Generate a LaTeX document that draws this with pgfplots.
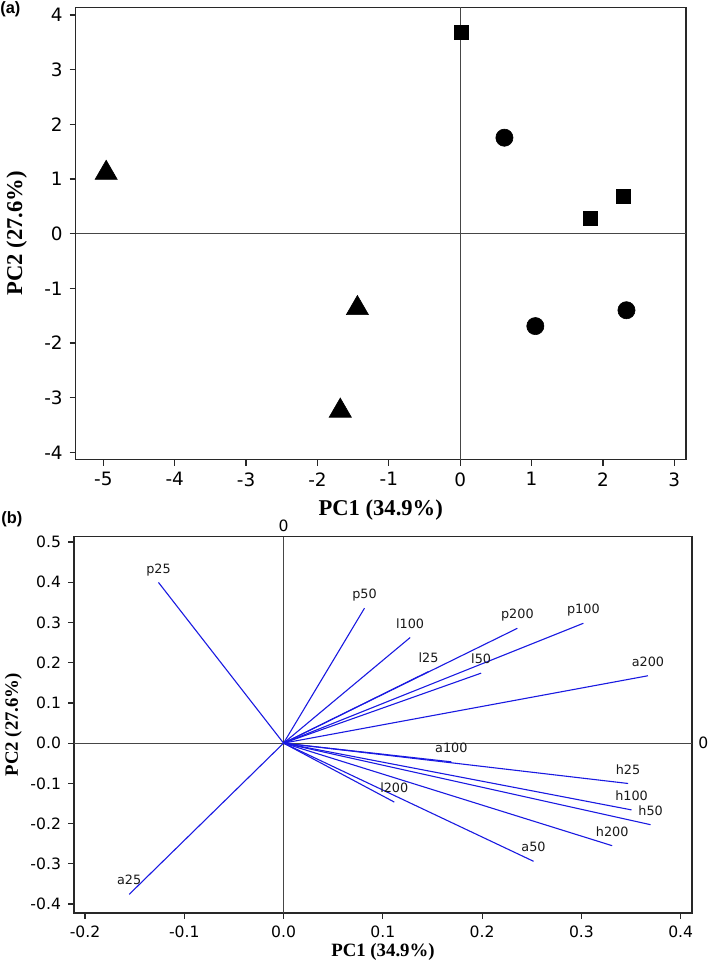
\documentclass[border=0pt]{standalone}
\usepackage{pgfplots}
\pgfplotsset{compat=1.18}
\usepackage{fontspec}
\setmainfont{DejaVu Sans}
\newfontfamily\timesfont{Liberation Serif}
\newfontfamily\arialfont{Liberation Sans}
\definecolor{vecblue}{RGB}{25,25,225}
\definecolor{zgray}{RGB}{70,70,70}
\definecolor{boxc}{RGB}{40,40,40}

\tikzset{
  vlab/.style={pos=1, anchor=base, yshift=4.7pt, inner sep=0pt, font=\fontsize{6.4}{7}\selectfont, text=black!90},
}
\pgfplotsset{
  pcastyle/.style={
    scale only axis, anchor=north west,
    axis line style={boxc, line width=0.8pt},
    tick align=outside, xtick pos=bottom, ytick pos=left,
    major tick length=3pt,
    tick style={boxc, line width=0.6pt},
    /pgf/number format/assume math mode=true,
    clip=false,
  },
  vec/.style={vecblue, line width=0.55pt},
}

\begin{document}
\begin{tikzpicture}
% ---------------- panel (a) ----------------
\begin{axis}[pcastyle,
  at={(37.85pt,-3.65pt)}, width=305pt, height=226.1pt,
  xmin=-5.387, xmax=3.16, ymin=-4.13, ymax=4.141,
  xtick={-5,-4,-3,-2,-1,0,1,2,3}, ytick={-4,-3,-2,-1,0,1,2,3,4},
  tick label style={font=\fontsize{9.2}{10}\selectfont},
  xlabel={PC1 (34.9\%)}, ylabel={PC2 (27.6\%)},
  xlabel style={font=\timesfont\bfseries\fontsize{11.3}{12}\selectfont, at={([yshift=-25.25pt]axis description cs:0.5,0)}, anchor=center},
  ylabel style={font=\timesfont\bfseries\fontsize{11.3}{12}\selectfont, at={([xshift=-29.5pt]axis description cs:0,0.5)}, anchor=center},
]
\addplot[zgray, line width=0.6pt, forget plot] coordinates {(-5.387,0) (3.16,0)};
\addplot[zgray, line width=0.6pt, forget plot] coordinates {(0,-4.13) (0,4.141)};
\addplot[only marks, mark=square*, mark size=3.5pt, mark options={black, line width=0.3pt}] coordinates {(0.02,3.68) (2.28,0.69) (1.83,0.274)};
\addplot[only marks, mark=*, mark size=4.3pt, mark options={black, line width=0.3pt}] coordinates {(0.62,1.756) (1.053,-1.69) (2.33,-1.40)};
\addplot[only marks, mark=triangle*, mark size=6.4pt, mark options={black, line width=0.3pt}] coordinates {(-4.96,1.11) (-1.44,-1.364) (-1.68,-3.24)};
\end{axis}

% ---------------- panel (b) ----------------
\begin{axis}[pcastyle,
  at={(37pt,-268.25pt)}, width=309pt, height=188.1pt,
  xmin=-0.2111, xmax=0.4114, ymin=-0.4216, ymax=0.5137,
  xtick={-0.2,-0.1,0,0.1,0.2,0.3,0.4},
  ytick={-0.4,-0.3,-0.2,-0.1,0,0.1,0.2,0.3,0.4,0.5},
  tick label style={font=\fontsize{7.8}{8.5}\selectfont},
  xticklabel style={/pgf/number format/.cd, fixed, fixed zerofill, precision=1, assume math mode=true},
  yticklabel style={/pgf/number format/.cd, fixed, fixed zerofill, precision=1, assume math mode=true},
  xlabel={PC1 (34.9\%)}, ylabel={PC2 (27.6\%)},
  xlabel style={font=\timesfont\bfseries\fontsize{9.4}{10}\selectfont, at={([yshift=-19.5pt]axis description cs:0.5,0)}, anchor=center},
  ylabel style={font=\timesfont\bfseries\fontsize{9.4}{10}\selectfont, at={([xshift=-30.35pt]axis description cs:0,0.5)}, anchor=center},
]
\addplot[zgray, line width=0.6pt, forget plot] coordinates {(-0.2111,0) (0.4114,0)};
\addplot[zgray, line width=0.6pt, forget plot] coordinates {(0,-0.4216) (0,0.5137)};
\node[anchor=south, inner sep=0pt, yshift=2.2pt, font=\fontsize{7.8}{8.5}\selectfont] at (axis cs:0,0.5137) {0};
\node[anchor=west, inner sep=0pt, xshift=3pt, font=\fontsize{7.8}{8.5}\selectfont] at (axis cs:0.4114,0) {0};

\addplot[vec] coordinates {(0,0) (-0.126,0.3995)} node[vlab] {p25};
\addplot[vec] coordinates {(0,0) (0.0815,0.3355)} node[vlab] {p50};
\addplot[vec] coordinates {(0,0) (0.1275,0.2625)} node[vlab] {l100};
\addplot[vec] coordinates {(0,0) (0.2355,0.2855)} node[vlab] {p200};
\addplot[vec] coordinates {(0,0) (0.302,0.298)} node[vlab] {p100};
\addplot[vec] coordinates {(0,0) (0.146,0.178)} node[vlab] {l25};
\addplot[vec] coordinates {(0,0) (0.199,0.174)} node[vlab] {l50};
\addplot[vec] coordinates {(0,0) (0.367,0.1675)} node[vlab] {a200};
\addplot[vec] coordinates {(0,0) (0.169,-0.0465)} node[vlab] {a100};
\addplot[vec] coordinates {(0,0) (0.347,-0.1003)} node[vlab] {h25};
\addplot[vec] coordinates {(0,0) (0.3505,-0.166)} node[vlab] {h100};
\addplot[vec] coordinates {(0,0) (0.3697,-0.2028)} node[vlab] {h50};
\addplot[vec] coordinates {(0,0) (0.331,-0.255)} node[vlab] {h200};
\addplot[vec] coordinates {(0,0) (0.2518,-0.2938)} node[vlab] {a50};
\addplot[vec] coordinates {(0,0) (0.1115,-0.1465)} node[vlab] {l200};
\addplot[vec] coordinates {(0,0) (-0.1555,-0.376)} node[vlab] {a25};
\end{axis}

\node[anchor=west, inner sep=0pt, font=\arialfont\bfseries\fontsize{8.2}{9}\selectfont] at (0pt,-4.85pt) {(a)};
\node[anchor=west, inner sep=0pt, font=\arialfont\bfseries\fontsize{8.2}{9}\selectfont] at (0.5pt,-259.5pt) {(b)};

\pgfresetboundingbox
\useasboundingbox (0,0) rectangle (354.5pt,-482.5pt);
\end{tikzpicture}
\end{document}
